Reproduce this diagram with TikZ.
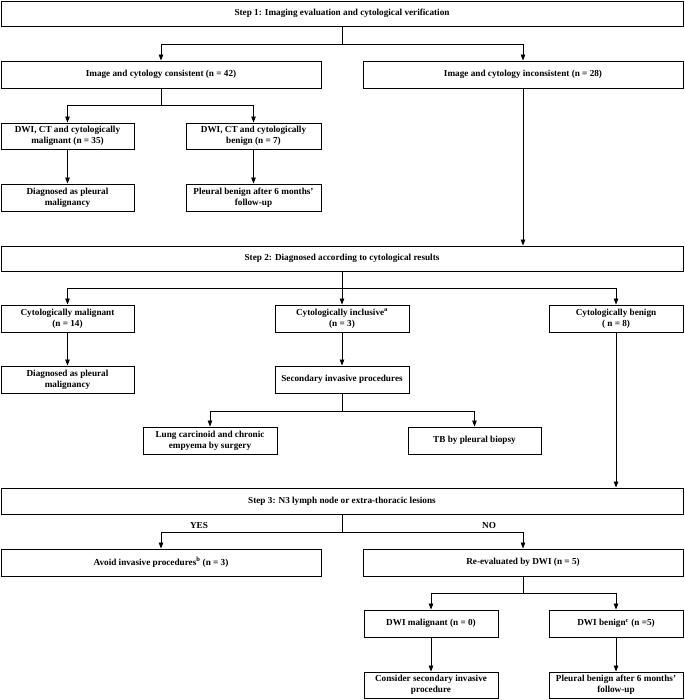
\documentclass[tikz,border=0pt]{standalone}
\usepackage{fontspec}
\setmainfont{Liberation Serif}
\usetikzlibrary{arrows.meta}
\begin{document}
\begin{tikzpicture}[x=1pt,y=-1pt,
  box/.style={draw=black, line width=0.9pt, align=center, inner sep=0pt,
    font=\bfseries\fontsize{9.2}{11}\selectfont, text=black},
  conn/.style={line width=0.8pt, -{Triangle[length=6pt,width=4.5pt]}},
  plain/.style={line width=0.8pt},
  lbl/.style={font=\bfseries\fontsize{9.2}{11}\selectfont, inner sep=0pt}]
\useasboundingbox (0,0) rectangle (684,700);

% Step 1
\node[box, minimum width=682pt, minimum height=25pt] (s1) at (342,13.5) {Step 1: Imaging evaluation and cytological verification};
\node[box, minimum width=320pt, minimum height=27pt] (cons) at (161,74.5) {Image and cytology consistent (n = 42)};
\node[box, minimum width=320pt, minimum height=27pt] (incons) at (523,74.5) {Image and cytology inconsistent (n = 28)};
\node[box, minimum width=133pt, minimum height=26pt] (dwim) at (67.5,136) {DWI, CT and cytologically\\malignant (n = 35)};
\node[box, minimum width=135pt, minimum height=26pt] (dwib) at (253.5,136) {DWI, CT and cytologically\\benign (n = 7)};
\node[box, minimum width=133pt, minimum height=27pt] (diag1) at (67.5,197.5) {Diagnosed as pleural\\malignancy};
\node[box, minimum width=135pt, minimum height=27pt] (pben1) at (253.5,197.5) {Pleural benign after 6 months’\\follow-up};

% Step 2
\node[box, minimum width=682pt, minimum height=25pt] (s2) at (342,258.5) {Step 2: Diagnosed according to cytological results};
\node[box, minimum width=133pt, minimum height=27pt] (cmal) at (67.5,318.5) {Cytologically malignant\\(n = 14)};
\node[box, minimum width=134pt, minimum height=27pt] (cinc) at (342,318.5) {Cytologically inclusive\textsuperscript{a}\\(n = 3)};
\node[box, minimum width=134pt, minimum height=27pt] (cben) at (616,318.5) {Cytologically benign\\( n = 8)};
\node[box, minimum width=133pt, minimum height=27pt] (diag2) at (67.5,379.5) {Diagnosed as pleural\\malignancy};
\node[box, minimum width=134pt, minimum height=27pt] (sec) at (342,379.5) {Secondary invasive procedures};
\node[box, minimum width=134pt, minimum height=27pt] (lung) at (210,440.5) {Lung carcinoid and chronic\\empyema by surgery};
\node[box, minimum width=133pt, minimum height=27pt] (tb) at (474.5,440.5) {TB by pleural biopsy};

% Step 3
\node[box, minimum width=682pt, minimum height=26pt] (s3) at (342,501) {Step 3: N3 lymph node or extra-thoracic lesions};
\node[box, minimum width=320pt, minimum height=27pt] (avoid) at (161,562.5) {Avoid invasive procedures\textsuperscript{b} (n = 3)};
\node[box, minimum width=320pt, minimum height=27pt] (reev) at (523,562.5) {Re-evaluated by DWI (n = 5)};
\node[box, minimum width=134pt, minimum height=27pt] (dwim2) at (431,623.5) {DWI malignant (n = 0)};
\node[box, minimum width=134pt, minimum height=27pt] (dwib2) at (616,623.5) {DWI benign\textsuperscript{c} (n =5)};
\node[box, minimum width=134pt, minimum height=26pt] (cons2) at (431,685) {Consider secondary invasive\\procedure};
\node[box, minimum width=134pt, minimum height=26pt] (pben2) at (616,685) {Pleural benign after 6 months’\\follow-up};

\node[lbl] (yes) at (199,525.5) {YES};
\node[lbl] (no) at (489,525.5) {NO};

% junctions
\coordinate (j1) at (342,44);
\coordinate (j2) at (161,105);
\coordinate (j3) at (342,288);
\coordinate (j4) at (342,411);
\coordinate (j5) at (342,532);
\coordinate (j6) at (523,593);

% connectors
\draw[plain] (s1.south) -- (j1);
\draw[conn] (j1) -| (cons.north);
\draw[conn] (j1) -| (incons.north);

\draw[plain] (cons.south) -- (j2);
\draw[conn] (j2) -| (dwim.north);
\draw[conn] (j2) -| (dwib.north);
\draw[conn] (dwim.south) -- (diag1.north);
\draw[conn] (dwib.south) -- (pben1.north);

\draw[conn] (incons.south) -- (incons.south |- s2.north);

\draw[plain] (s2.south) -- (j3);
\draw[conn] (j3) -| (cmal.north);
\draw[conn] (j3) -- (cinc.north);
\draw[conn] (j3) -| (cben.north);
\draw[conn] (cmal.south) -- (diag2.north);
\draw[conn] (cinc.south) -- (sec.north);

\draw[plain] (sec.south) -- (j4);
\draw[conn] (j4) -| (lung.north);
\draw[conn] (j4) -| (tb.north);

\draw[conn] (cben.south) -- (cben.south |- s3.north);

\draw[plain] (s3.south) -- (j5);
\draw[conn] (j5) -| (avoid.north);
\draw[conn] (j5) -| (reev.north);

\draw[plain] (reev.south) -- (j6);
\draw[conn] (j6) -| (dwim2.north);
\draw[conn] (j6) -| (dwib2.north);
\draw[conn] (dwim2.south) -- (cons2.north);
\draw[conn] (dwib2.south) -- (pben2.north);
\end{tikzpicture}
\end{document}
